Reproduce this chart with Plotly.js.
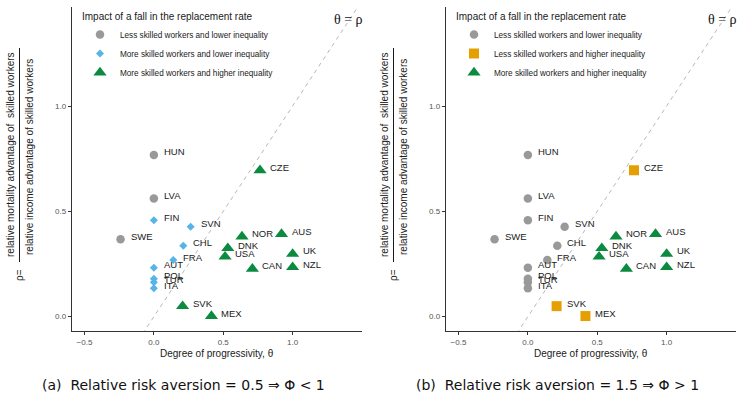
<!DOCTYPE html>
<html>
<head>
<meta charset="utf-8">
<script src="https://cdn.plot.ly/plotly-3.0.1.min.js"></script>
<style>html,body{margin:0;padding:0;background:#fff;}#chart{width:739px;height:395px;}</style>
</head>
<body>
<div id="chart"></div>
<script>
// ---- data ----
const countries = ["HUN","LVA","FIN","SWE","SVN","CHL","FRA","AUT","POL","TUR","ITA","CZE","NOR","AUS","DNK","USA","UK","CAN","NZL","SVK","MEX"];
const theta     = [0, 0, 0, -0.24, 0.265, 0.212, 0.14, 0, 0, 0, 0, 0.765, 0.635, 0.92, 0.533, 0.513, 1.0, 0.71, 1.0, 0.207, 0.415];
const rho       = [0.768, 0.561, 0.458, 0.367, 0.427, 0.337, 0.269, 0.232, 0.18, 0.163, 0.135, 0.695, 0.38, 0.392, 0.325, 0.285, 0.298, 0.227, 0.235, 0.05, 0.003];
// group codes: LL less skilled/lower inequality, ML more skilled/lower, LH less skilled/higher, MH more skilled/higher
const groupA    = ["LL","LL","ML","LL","ML","ML","ML","ML","ML","ML","ML","MH","MH","MH","MH","MH","MH","MH","MH","MH","MH"];
const groupB    = ["LL","LL","LL","LL","LL","LL","LL","LL","LL","LL","LL","LH","MH","MH","MH","MH","MH","MH","MH","LH","LH"];
const groupNames = {
  LL: "Less skilled workers and lower inequality",
  ML: "More skilled workers and lower inequality",
  LH: "Less skilled workers and higher inequality",
  MH: "More skilled workers and higher inequality"
};
const groupOrderA = ["LL","ML","MH"];
const groupOrderB = ["LL","LH","MH"];
const diagLine = [-1, 2];
const xTickVals = [-0.5, 0, 0.5, 1.0];
const xTickText = ["\u22120.5", "0.0", "0.5", "1.0"];
const yTickVals = [0, 0.5, 1.0];
const yTickText = ["0.0", "0.5", "1.0"];
const S = "\u00A0";
const captions = [
  "(a)" + S + S + "Relative risk aversion" + S + "=" + S + "0.5" + S + "\u21D2" + S + "\u03A6" + S + "<" + S + "1",
  "(b)" + S + S + "Relative risk aversion" + S + "=" + S + "1.5" + S + "\u21D2" + S + "\u03A6" + S + ">" + S + "1"
];

// ---- styles ----
const W = 739, H = 395;
const styles = {
  LL: {symbol: "circle", color: "#999999", size: 8.5},
  ML: {symbol: "diamond", color: "#56B4E9", size: 6.2},
  LH: {symbol: "square", color: "#E69F00", size: 10},
  MH: {symbol: "triangle-up", color: "#0B8A40", size: 11.5}
};
const px = v => v / W, py = v => 1 - v / H;
const panels = [
  {xa: "x", ya: "y", x0: 72, groups: groupA, order: groupOrderA, legend: "legend"},
  {xa: "x2", ya: "y2", x0: 446, groups: groupB, order: groupOrderB, legend: "legend2"}
];
const plotW = 290, plotTop = 7, plotBot = 331;
const sans = "Liberation Sans, Arial, Helvetica, sans-serif";

const traces = [];
const annotations = [];
const shapes = [];

panels.forEach((p, pi) => {
  traces.push({
    x: diagLine, y: diagLine, xaxis: p.xa, yaxis: p.ya, mode: "lines",
    line: {color: "#b8b8b8", width: 1, dash: "4px,4px"}, hoverinfo: "skip", showlegend: false
  });
  p.order.forEach(g => {
    const idx = countries.map((c, i) => i).filter(i => p.groups[i] === g);
    traces.push({
      x: idx.map(i => theta[i]), y: idx.map(i => rho[i]),
      xaxis: p.xa, yaxis: p.ya, mode: "markers", type: "scatter",
      name: groupNames[g], legend: p.legend,
      marker: {symbol: styles[g].symbol, color: styles[g].color, size: styles[g].size, line: {width: 0}}
    });
  });
  countries.forEach((c, i) => {
    annotations.push({
      xref: p.xa, yref: p.ya, x: theta[i], y: rho[i], text: c, showarrow: false,
      xanchor: "left", yanchor: "middle", xshift: 8, yshift: 3,
      font: {family: sans, size: 9.5, color: "#1a1a1a"}
    });
  });
  const cx = p.x0 + plotW / 2;
  annotations.push({
    xref: "paper", yref: "paper", x: px(cx), y: py(353), text: "Degree of progressivity, \u03B8",
    showarrow: false, xanchor: "center", yanchor: "middle",
    font: {family: sans, size: 10, color: "#1a1a1a"}
  });
  annotations.push({
    xref: "paper", yref: "paper", x: px(p.x0 + 111), y: py(385), text: captions[pi],
    showarrow: false, xanchor: "center", yanchor: "middle",
    font: {family: "DejaVu Sans, sans-serif", size: 14, color: "#111"}
  });
  annotations.push({
    xref: "paper", yref: "paper", x: px(p.x0 + 276), y: py(19), text: "\u03B8 = \u03C1",
    showarrow: false, xanchor: "center", yanchor: "middle",
    font: {family: "Liberation Serif, DejaVu Serif, serif", size: 14, color: "#111"}
  });
  const off = p.x0 - 72;
  annotations.push({
    xref: "paper", yref: "paper", x: px(off + 10), y: py(155), text: "relative mortality advantage of  skilled workers",
    showarrow: false, textangle: -90, xanchor: "center", yanchor: "middle",
    font: {family: sans, size: 10, color: "#1a1a1a"}
  });
  annotations.push({
    xref: "paper", yref: "paper", x: px(off + 29), y: py(157), text: "relative income advantage of skilled workers",
    showarrow: false, textangle: -90, xanchor: "center", yanchor: "middle",
    font: {family: sans, size: 10, color: "#1a1a1a"}
  });
  annotations.push({
    xref: "paper", yref: "paper", x: px(off + 19), y: py(275), text: "\u03C1=",
    showarrow: false, textangle: -90, xanchor: "center", yanchor: "middle",
    font: {family: sans, size: 10, color: "#1a1a1a"}
  });
  shapes.push({
    type: "line", xref: "paper", yref: "paper", x0: px(off + 19.5), x1: px(off + 19.5), y0: py(48), y1: py(262),
    line: {color: "#1a1a1a", width: 1}
  });
});

const axisCommon = {
  showgrid: false, zeroline: false, showline: true, linecolor: "#333", linewidth: 1.3,
  ticks: "outside", ticklen: 3, tickwidth: 1, tickcolor: "#333",
  tickfont: {family: sans, size: 8, color: "#555"}
};
const xa = (dom) => Object.assign({}, axisCommon, {domain: dom, range: [-0.59, 1.50], tickvals: xTickVals, ticktext: xTickText});
const ya = (dom) => Object.assign({}, axisCommon, {domain: dom, range: [-0.068, 1.47], tickvals: yTickVals, ticktext: yTickText});

const legendCommon = {
  xanchor: "left", yanchor: "top", bgcolor: "rgba(0,0,0,0)",
  font: {family: sans, size: 8.2, color: "#1a1a1a"},
  title: {text: "Impact of a fall in the replacement rate", font: {family: sans, size: 10, color: "#1a1a1a"}},
  tracegroupgap: 0, itemsizing: "trace"
};

const layout = {
  width: W, height: H, margin: {l: 0, r: 0, t: 0, b: 0},
  paper_bgcolor: "#fff", plot_bgcolor: "#fff",
  xaxis: Object.assign(xa([px(72), px(362)]), {anchor: "y"}),
  yaxis: Object.assign(ya([py(plotBot), py(plotTop)]), {anchor: "x"}),
  xaxis2: Object.assign(xa([px(446), px(736)]), {anchor: "y2"}),
  yaxis2: Object.assign(ya([py(plotBot), py(plotTop)]), {anchor: "x2"}),
  legend: Object.assign({}, legendCommon, {x: px(80), y: py(7)}),
  legend2: Object.assign({}, legendCommon, {x: px(454), y: py(7)}),
  annotations: annotations, shapes: shapes, showlegend: true
};

Plotly.newPlot("chart", traces, layout, {displayModeBar: false, staticPlot: true});
</script>
</body>
</html>
